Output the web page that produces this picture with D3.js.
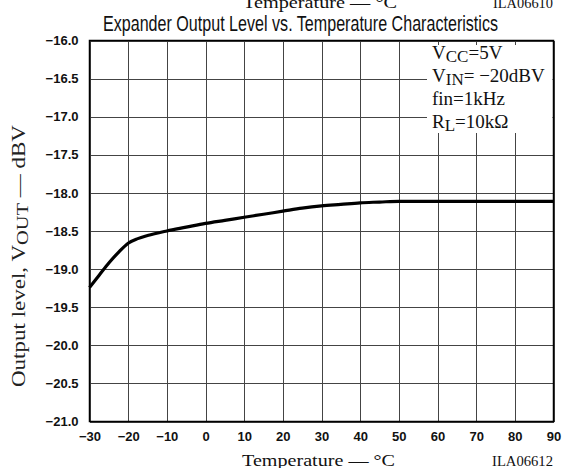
<!DOCTYPE html>
<html><head><meta charset="utf-8">
<script src="https://cdn.jsdelivr.net/npm/d3@7"></script>
<style>
html,body{margin:0;padding:0;background:#fff;}
svg{display:block;}
</style></head>
<body>
<svg id="c" width="564" height="468"></svg>
<script>
// ---- data ----
const temps  = [-30, -27.5, -25, -22.5, -20, -17.5, -15, -10, -5, 0, 5, 10, 15, 20, 25, 30, 35, 40, 45, 50, 60, 70, 80, 90];
const levels = [-19.24, -19.08, -18.92, -18.78, -18.66, -18.60, -18.56, -18.50, -18.45, -18.40, -18.36, -18.32, -18.28, -18.24, -18.20, -18.17, -18.15, -18.13, -18.12, -18.11, -18.11, -18.11, -18.11, -18.11];
const xTicks = [-30, -20, -10, 0, 10, 20, 30, 40, 50, 60, 70, 80, 90];
const yTicks = [-16.0, -16.5, -17.0, -17.5, -18.0, -18.5, -19.0, -19.5, -20.0, -20.5, -21.0];
const title = "Expander Output Level vs. Temperature Characteristics";
const xTitle = "Temperature — °C";
const figId = "ILA06612";
const prevFigId = "ILA06610";

// ---- layout ----
const svg = d3.select("#c");
const L = 89.5, R = 553.5, T = 40.5, B = 421.5;
const x = d3.scaleLinear().domain([-30, 90]).range([L, R]);
const y = d3.scaleLinear().domain([-21, -16]).range([B, T]);
const serif = "Liberation Serif, Times New Roman, serif";

// clipped text from previous chart at top
svg.append("text").attr("x", 243).attr("y", 8)
  .attr("font-family", serif).attr("font-size", 16).attr("fill", "#111")
  .attr("textLength", 154).attr("lengthAdjust", "spacingAndGlyphs").text(xTitle);
svg.append("text").attr("x", 493).attr("y", 8)
  .attr("font-family", serif).attr("font-size", 15).attr("fill", "#111")
  .attr("textLength", 60).attr("lengthAdjust", "spacingAndGlyphs").text(prevFigId);

// title
svg.append("text").attr("x", 103).attr("y", 31)
  .attr("font-family", "Liberation Sans Narrow, Arial Narrow, Liberation Sans, Arial, sans-serif")
  .attr("font-size", 22.5).attr("fill", "#111")
  .attr("textLength", 395).attr("lengthAdjust", "spacingAndGlyphs").text(title);

// grid via axes
const gx = svg.append("g").attr("transform", `translate(0,${B})`)
  .call(d3.axisBottom(x).tickValues(xTicks).tickSize(-(B - T)).tickFormat(""));
gx.select(".domain").remove();
gx.selectAll("line").attr("stroke", "#444").attr("stroke-width", 1).attr("shape-rendering", "crispEdges");

const gy = svg.append("g").attr("transform", `translate(${L},0)`)
  .call(d3.axisLeft(y).tickValues(yTicks).tickSize(-(R - L)).tickFormat(""));
gy.select(".domain").remove();
gy.selectAll("line").attr("stroke", "#444").attr("stroke-width", 1).attr("shape-rendering", "crispEdges");

// legend white box (hides grid)
svg.append("rect").attr("x", 427).attr("y", 45).attr("width", R - 427 - 1).attr("height", 88).attr("fill", "#fff");

// frame
svg.append("rect").attr("x", L).attr("y", T).attr("width", R - L).attr("height", B - T)
  .attr("fill", "none").attr("stroke", "#000").attr("stroke-width", 1.5);

// curve
svg.append("path").datum(temps.map((t, i) => [t, levels[i]]))
  .attr("fill", "none").attr("stroke", "#000").attr("stroke-width", 3.2)
  .attr("stroke-linejoin", "round")
  .attr("d", d3.line().x(d => x(d[0])).y(d => y(d[1])).curve(d3.curveMonotoneX));

// tick labels
const fmtY = d3.format(".1f"), fmtX = d3.format("d");
const ax = svg.append("g").attr("transform", `translate(0,${B})`)
  .call(d3.axisBottom(x).tickValues(xTicks).tickSize(0).tickPadding(10).tickFormat(fmtX));
ax.select(".domain").remove();
ax.selectAll("text").attr("font-family", "Liberation Sans, Arial, sans-serif").attr("font-size", 13)
  .attr("font-weight", "bold").attr("fill", "#111");

const ay = svg.append("g").attr("transform", `translate(${L},0)`)
  .call(d3.axisLeft(y).tickValues(yTicks).tickSize(0).tickPadding(11).tickFormat(fmtY));
ay.select(".domain").remove();
ay.selectAll("text").attr("font-family", "Liberation Sans, Arial, sans-serif").attr("font-size", 13)
  .attr("font-weight", "bold").attr("fill", "#111");

// legend text
const leg = [
  {main: "V", sub: "CC", rest: "=5V", yb: 59},
  {main: "V", sub: "IN", rest: "= −20dBV", yb: 82},
  {main: "fin=1kHz", sub: "", rest: "", yb: 105},
  {main: "R", sub: "L", rest: "=10kΩ", yb: 128}
];
leg.forEach(l => {
  const t = svg.append("text").attr("x", 432).attr("y", l.yb)
    .attr("font-family", serif).attr("font-size", 19).attr("fill", "#111");
  t.append("tspan").text(l.main);
  if (l.sub) {
    t.append("tspan").attr("dy", 3).attr("font-size", 17).text(l.sub);
    t.append("tspan").attr("dy", -3).text(l.rest);
  }
});

// y-axis title
const yt = svg.append("text").attr("transform", "translate(25,256) rotate(-90)")
  .attr("text-anchor", "middle").attr("font-family", serif).attr("font-size", 18).attr("fill", "#222")
  .attr("textLength", 262).attr("lengthAdjust", "spacingAndGlyphs");
yt.append("tspan").text("Output level, V");
yt.append("tspan").attr("dy", 3).attr("font-size", 16).text("OUT");
yt.append("tspan").attr("dy", -3).text(" — dBV");

// x-axis title and figure id
svg.append("text").attr("x", 242).attr("y", 466)
  .attr("font-family", serif).attr("font-size", 16).attr("fill", "#111")
  .attr("textLength", 153).attr("lengthAdjust", "spacingAndGlyphs").text(xTitle);
svg.append("text").attr("x", 492).attr("y", 466)
  .attr("font-family", serif).attr("font-size", 15).attr("fill", "#111")
  .attr("textLength", 61).attr("lengthAdjust", "spacingAndGlyphs").text(figId);
</script>
</body></html>
